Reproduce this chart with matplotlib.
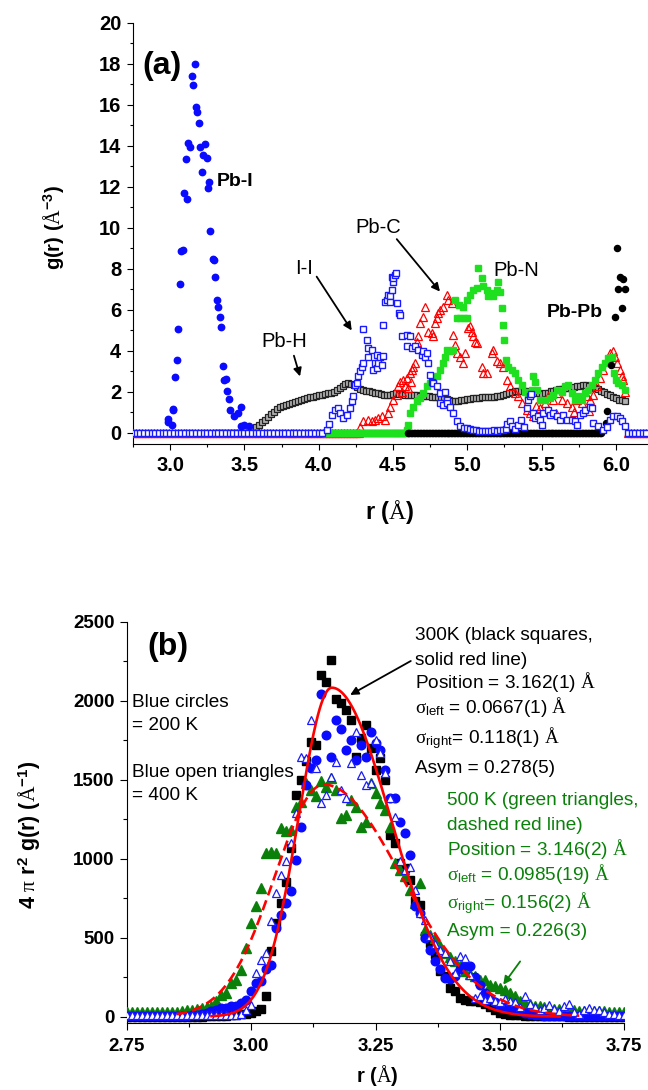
import numpy as np
import matplotlib
matplotlib.use("Agg")
import matplotlib.pyplot as plt
from matplotlib.ticker import MultipleLocator

plt.rcParams['font.family'] = ['Liberation Sans', 'DejaVu Sans']
plt.rcParams['mathtext.fontset'] = 'custom'
plt.rcParams['mathtext.rm'] = 'Liberation Serif'
plt.rcParams['mathtext.it'] = 'Liberation Serif:italic'
plt.rcParams['mathtext.bf'] = 'Liberation Sans:bold'
plt.rcParams['mathtext.sf'] = 'Liberation Sans'
plt.rcParams['axes.linewidth'] = 0.8

# ---------------------------------------------------------------- panel (a)
# Pb-I partial g(r)
pbi_r = [2.984, 2.986, 3.015, 3.021, 3.022, 3.035, 3.044, 3.053, 3.064, 3.073,
         3.084, 3.093, 3.105, 3.115, 3.122, 3.134, 3.145, 3.154, 3.165, 3.174,
         3.183, 3.192, 3.201, 3.214, 3.223, 3.235, 3.246, 3.255, 3.263, 3.270,
         3.286, 3.297, 3.304, 3.315, 3.324, 3.333, 3.344, 3.354, 3.364, 3.374,
         3.381, 3.394, 3.405, 3.432, 3.459, 3.475, 3.480, 3.500, 3.530]
pbi_g = [0.68, 0.50, 0.37, 1.17, 1.10, 2.73, 3.56, 5.06, 7.25, 8.89,
         8.93, 11.69, 13.38, 11.40, 14.16, 13.95, 17.40, 16.96, 18.00, 15.90,
         15.64, 15.12, 13.95, 12.75, 13.56, 14.08, 13.41, 11.97, 12.26, 9.84,
         8.49, 8.44, 7.60, 6.49, 6.13, 5.67, 5.17, 3.27, 2.57, 2.63,
         2.05, 1.64, 1.12, 0.83, 0.96, 1.27, 0.35, 0.38, 0.33]

# I-I partial g(r) (non-zero part) and its zero-valued stretches
ii_r = [4.053, 4.070, 4.087, 4.109, 4.132, 4.143, 4.165, 4.188, 4.210, 4.222,
        4.233, 4.244, 4.255, 4.266, 4.278, 4.289, 4.300, 4.300, 4.323, 4.333,
        4.333, 4.356, 4.367, 4.378, 4.390, 4.390, 4.400, 4.412, 4.423, 4.434,
        4.434, 4.446, 4.457, 4.468, 4.479, 4.479, 4.491, 4.491, 4.502, 4.502,
        4.513, 4.520, 4.524, 4.542, 4.547, 4.558, 4.592, 4.614, 4.592, 4.625,
        4.648, 4.670, 4.693, 4.704, 4.715, 4.726, 4.737, 4.749, 4.760, 4.771,
        4.794, 4.816, 4.816, 4.838, 4.850, 4.861, 4.861, 4.883, 4.905, 4.928,
        4.950, 4.975, 4.995, 5.020, 5.040, 5.060, 5.080, 5.100, 5.120, 5.140,
        5.160, 5.180, 5.200, 5.220, 5.240, 5.260, 5.270, 5.290, 5.300, 5.320,
        5.340, 5.360, 5.380, 5.400, 5.410, 5.422, 5.430, 5.444, 5.455, 5.478,
        5.489, 5.500, 5.511, 5.545, 5.556, 5.578, 5.601, 5.623, 5.646, 5.668,
        5.702, 5.724, 5.740, 5.758, 5.780, 5.791, 5.825, 5.836, 5.848, 5.881,
        5.915, 5.940, 5.960, 5.982, 6.005, 6.027, 6.039, 6.060]
ii_g = [0.15, 0.45, 0.88, 1.12, 1.20, 0.96, 0.72, 0.88, 1.20, 1.53,
        1.80, 2.34, 2.42, 2.75, 2.99, 3.20, 3.40, 5.05, 4.55, 4.13,
        3.72, 4.05, 3.07, 3.40, 3.80, 3.16, 3.40, 3.72, 3.32, 3.75,
        5.27, 6.40, 6.49, 6.73, 6.65, 6.40, 6.98, 7.62, 7.38, 7.55,
        7.71, 7.79, 6.33, 5.84, 5.76, 4.70, 4.78, 4.70, 4.21, 4.13,
        4.21, 4.05, 3.80, 3.97, 3.72, 3.89, 3.40, 2.83, 2.50, 2.42,
        2.26, 1.94, 1.45, 1.37, 2.01, 1.61, 1.45, 1.28, 0.96, 0.55,
        0.31, 0.25, 0.23, 0.18, 0.15, 0.12, 0.10, 0.10, 0.08, 0.08,
        0.10, 0.12, 0.10, 0.12, 0.15, 0.20, 0.45, 0.55, 0.35, 0.20,
        0.40, 0.60, 0.30, 1.20, 1.61, 1.77, 1.90, 0.96, 0.72, 0.80,
        0.63, 0.40, 0.96, 1.12, 0.88, 0.96, 0.80, 0.63, 0.88, 0.63,
        0.63, 0.55, 0.40, 0.88, 0.96, 1.12, 1.28, 1.20, 0.47, 0.31,
        0.15, 0.30, 0.63, 0.80, 0.83, 0.72, 0.55, 0.31]
ii_zero_spans = [(2.75, 4.04), (6.08, 6.22)]

# Pb-C partial g(r)
pbc_r = [4.280, 4.300, 4.334, 4.356, 4.379, 4.400, 4.424, 4.446, 4.468, 4.479,
         4.502, 4.525, 4.536, 4.547, 4.560, 4.569, 4.580, 4.592, 4.600, 4.614,
         4.620, 4.625, 4.636, 4.648, 4.659, 4.670, 4.681, 4.704, 4.715, 4.737,
         4.760, 4.771, 4.782, 4.794, 4.805, 4.816, 4.838, 4.861, 4.872, 4.895,
         4.905, 4.917, 4.928, 4.951, 4.973, 4.984, 5.007, 5.018, 5.029, 5.040,
         5.052, 5.063, 5.096, 5.107, 5.130, 5.164, 5.175, 5.198, 5.220, 5.242,
         5.265, 5.287, 5.321, 5.343, 5.366, 5.399, 5.422, 5.444, 5.460, 5.489,
         5.523, 5.545, 5.578, 5.600, 5.601, 5.635, 5.668, 5.702, 5.720, 5.736,
         5.769, 5.803, 5.820, 5.825, 5.848, 5.870, 5.893, 5.915, 5.938, 5.960,
         5.978, 5.994, 6.009, 6.027, 6.039, 6.050, 6.061]
pbc_g = [0.30, 0.55, 0.63, 0.55, 0.63, 0.72, 0.80, 0.63, 0.96, 1.28,
         1.61, 1.85, 2.26, 2.50, 2.00, 2.59, 2.30, 2.67, 2.20, 2.91,
         2.50, 3.07, 3.23, 3.40, 4.45, 4.70, 5.35, 5.67, 6.16, 4.94,
         4.86, 4.70, 5.35, 5.60, 5.84, 6.00, 6.16, 6.73, 6.49, 6.33,
         4.78, 4.29, 3.89, 3.72, 3.40, 3.89, 5.10, 5.19, 4.94, 4.70,
         4.45, 4.37, 3.23, 2.91, 2.91, 3.89, 4.05, 3.48, 3.40, 3.23,
         2.59, 2.26, 1.94, 1.77, 1.45, 1.12, 0.96, 0.80, 1.30, 1.20,
         1.45, 1.77, 1.61, 0.95, 1.94, 1.61, 1.45, 1.28, 1.00, 1.61,
         1.45, 1.77, 1.05, 1.61, 1.85, 2.26, 2.67, 3.07, 3.48, 3.89,
         3.97, 3.72, 3.40, 3.07, 2.75, 2.59, 2.01]
pbc_zero_spans = [(2.75, 4.27), (6.08, 6.22)]

# Pb-N partial g(r)
pbn_r = [4.592, 4.600, 4.614, 4.636, 4.659, 4.681, 4.704, 4.726, 4.749, 4.771,
         4.794, 4.816, 4.834, 4.850, 4.861, 4.883, 4.905, 4.917, 4.928, 4.946,
         4.950, 4.973, 4.975, 4.995, 4.995, 5.018, 5.040, 5.063, 5.074, 5.096,
         5.107, 5.130, 5.141, 5.164, 5.175, 5.198, 5.209, 5.220, 5.231, 5.242,
         5.247, 5.260, 5.276, 5.299, 5.321, 5.343, 5.366, 5.388, 5.410, 5.433,
         5.444, 5.455, 5.471, 5.489, 5.523, 5.556, 5.578, 5.601, 5.635, 5.657,
         5.679, 5.702, 5.724, 5.747, 5.769, 5.791, 5.814, 5.836, 5.859, 5.881,
         5.904, 5.927, 5.949, 5.971, 5.987, 6.000, 6.016, 6.039, 6.061]
pbn_g = [0.15, 0.40, 0.96, 1.28, 1.53, 1.69, 1.94, 2.26, 2.42, 2.50,
         2.75, 3.07, 3.40, 3.72, 4.05, 3.97, 4.05, 6.49, 5.60, 6.24,
         5.60, 6.16, 5.60, 6.49, 5.60, 6.73, 6.98, 7.06, 8.03, 7.55,
         7.14, 6.98, 6.65, 6.81, 6.65, 6.98, 7.38, 6.89, 6.08, 5.27,
         4.54, 3.56, 3.23, 3.07, 2.91, 2.59, 2.34, 2.01, 1.77, 2.10,
         2.75, 2.50, 2.10, 1.61, 1.61, 1.69, 1.85, 2.10, 2.01, 2.26,
         2.34, 1.94, 1.61, 1.77, 1.61, 1.94, 2.10, 2.34, 2.59, 2.91,
         3.23, 3.40, 3.64, 3.72, 2.91, 2.59, 2.42, 2.34, 2.10]
pbn_zero_spans = [(4.04, 4.59)]

# Pb-Pb partial g(r)
pbpb_r = [5.930, 5.940, 5.970, 5.994, 6.005, 6.016, 6.027, 6.040, 6.045, 6.060]
pbpb_g = [0.47, 1.04, 3.30, 5.67, 9.00, 7.00, 7.62, 6.08, 7.50, 7.00]
pbpb_zero_spans = [(4.60, 5.90)]

# Pb-H partial g(r), tabulated every 0.02 A from 3.30 A
pbh_start, pbh_step = 3.30, 0.02
pbh_g = [0.00, 0.00, 0.00, 0.00, 0.00, 0.00, 0.00, 0.00, 0.00, 0.00,
         0.00, 0.00, 0.00, 0.15, 0.28, 0.40, 0.50, 0.62, 0.75, 0.90,
         1.02, 1.15, 1.25, 1.32, 1.36, 1.40, 1.45, 1.50, 1.55, 1.60,
         1.65, 1.70, 1.72, 1.76, 1.80, 1.84, 1.86, 1.90, 1.92, 1.95,
         2.00, 2.08, 2.18, 2.28, 2.36, 2.42, 2.40, 2.32, 2.22, 2.15,
         2.10, 2.05, 2.02, 1.98, 1.96, 1.94, 1.90, 1.86, 1.82, 1.84,
         1.88, 1.92, 1.90, 1.88, 1.86, 1.85, 1.84, 1.82, 1.82, 1.80,
         1.80, 1.78, 1.77, 1.76, 1.74, 1.72, 1.70, 1.67, 1.64, 1.60,
         1.57, 1.55, 1.56, 1.58, 1.62, 1.64, 1.66, 1.68, 1.70, 1.71,
         1.72, 1.72, 1.73, 1.74, 1.76, 1.78, 1.80, 1.84, 1.88, 1.92,
         1.98, 2.02, 2.05, 2.06, 2.04, 2.02, 2.00, 1.98, 1.95, 1.92,
         1.90, 1.92, 1.96, 2.02, 2.06, 2.10, 2.12, 2.14, 2.16, 2.18,
         2.20, 2.22, 2.26, 2.30, 2.33, 2.32, 2.28, 2.24, 2.18, 2.12,
         2.05, 1.98, 1.90, 1.82, 1.75, 1.68, 1.62, 1.58, 1.56]

xticks_a = [3.0, 3.5, 4.0, 4.5, 5.0, 5.5, 6.0]
xticklabels_a = ['3.0', '3.5', '4.0', '4.5', '5.0', '5.5', '6.0']
yticks_a = [0, 2, 4, 6, 8, 10, 12, 14, 16, 18, 20]
yticklabels_a = [str(v) for v in yticks_a]

# ---------------------------------------------------------------- panel (b)
# 4 pi r^2 g(r), tabulated every 0.01 A from 2.75 A
rb_start, rb_step = 2.75, 0.01
t300_black = [0, 0, 0, 0, 0, 0, 0, 0, 0, 0,
              0, 0, 0, 0, 0, 0, 2, 3, 4, 5,
              6, 8, 10, 14, 18, 23, 34, 49, 129, 413,
              593, 720, 856, 1068, 1405, 1500, 1620, 1742, 1721, 2165,
              2122, 2259, 2011, 1985, 1943, 1880, 1647, 1764, 1848, 1700,
              1560, 1637, 1500, 1152, 1100, 973, 941, 867, 730, 709,
              508, 466, 400, 287, 255, 180, 160, 118, 108, 100,
              97, 95, 80, 60, 40, 25, 15, 13, 10, 8,
              6, 5, 4, 3, 3, 2, 2, 2, 2, 1,
              1, 1, 1, 1, 1, 0, 0, 0, 0, 0,
              0]
t200_blue = [2, 2, 2, 2, 2, 2, 2, 2, 2, 2,
             2, 3, 5, 8, 12, 18, 25, 35, 44, 55,
             55, 65, 65, 87, 108, 160, 213, 224, 300, 329,
             560, 646, 719, 793, 994, 1200, 1468, 1574, 1627, 2044,
             1785, 1647, 1880, 1824, 1690, 1753, 1627, 1721, 1647, 1806,
             1732, 1690, 1563, 1384, 1384, 1236, 1162, 1025, 698, 656,
             500, 420, 350, 300, 245, 240, 260, 300, 329, 318,
             250, 200, 150, 110, 90, 70, 55, 48, 44, 35,
             25, 18, 12, 8, 6, 5, 4, 3, 3, 2,
             2, 2, 2, 2, 2, 2, 2, 2, 2, 2,
             2]
t400_open = [13, 13, 13, 13, 13, 13, 13, 13, 13, 13,
             13, 13, 13, 13, 13, 13, 13, 13, 13, 13,
             13, 13, 13, 20, 45, 76, 276, 361, 403, 603,
             783, 900, 983, 1099, 1289, 1647, 1637, 1880, 1574, 1352,
             1405, 1521, 1616, 1437, 1384, 1605, 1806, 1532, 1468, 1479,
             1753, 1669, 1542, 1384, 1268, 983, 930, 951, 800, 656,
             614, 508, 460, 424, 403, 350, 276, 382, 371, 266,
             118, 129, 108, 118, 100, 95, 110, 100, 90, 60,
             129, 80, 60, 40, 55, 75, 50, 35, 65, 80,
             30, 20, 40, 55, 45, 40, 30, 20, 15, 13,
             13]
t500_green = [30, 30, 30, 30, 30, 30, 30, 30, 30, 30,
              30, 35, 40, 45, 50, 55, 60, 65, 100, 139,
              150, 213, 234, 297, 435, 593, 698, 814, 1036, 1046,
              1036, 1194, 1173, 1184, 1331, 1363, 1479, 1437, 1395, 1490,
              1458, 1511, 1437, 1258, 1278, 1373, 1331, 1204, 1236, 1479,
              1416, 1352, 1310, 1204, 973, 930, 888, 804, 719, 846,
              551, 519, 498, 445, 403, 380, 350, 318, 290, 270,
              255, 234, 234, 203, 192, 182, 171, 150, 129, 100,
              87, 80, 70, 65, 60, 55, 50, 48, 44, 42,
              40, 38, 36, 35, 34, 34, 33, 32, 32, 31,
              30]

# asymmetric Gaussian fits (position, sigma_left, sigma_right in A; peak height)
fit_300 = dict(position=3.162, sigma_left=0.0667, sigma_right=0.118, height=2084, r_range=(2.92, 3.62))
fit_500 = dict(position=3.146, sigma_left=0.0985, sigma_right=0.156, height=1470, r_range=(2.85, 3.66))

xticks_b = [2.75, 3.00, 3.25, 3.50, 3.75]
xticklabels_b = ['2.75', '3.00', '3.25', '3.50', '3.75']
yticks_b = [0, 500, 1000, 1500, 2000, 2500]
yticklabels_b = [str(v) for v in yticks_b]


def span_points(spans, step):
    return np.concatenate([np.arange(a, b + 1e-9, step) for a, b in spans])


def split_gauss(r, position, sigma_left, sigma_right, height):
    s = np.where(r < position, sigma_left, sigma_right)
    return height * np.exp(-(r - position) ** 2 / (2 * s ** 2))


W, H = 648, 1090
fig = plt.figure(figsize=(W / 100, H / 100), dpi=100)

# ------------------------------------------------------------ draw panel (a)
ax = fig.add_axes([133 / W, 1 - 444 / H, (W - 133) / W, (444 - 23) / H])
ax.set_xlim(2.75, 6.216)
ax.set_ylim(-0.55, 20)

pbh_r = np.round(pbh_start + pbh_step * np.arange(len(pbh_g)), 3)
ax.plot(pbh_r, pbh_g, ls='none', marker='s', ms=4.2, mfc='#b0b0b0', mec='#222222', mew=0.9, zorder=2)

pbc_zero = span_points(pbc_zero_spans, 0.02)
ax.plot(pbc_zero, np.zeros_like(pbc_zero), ls='none', marker='^', ms=5.8, mfc='none', mec='red', mew=0.9, zorder=3)
ax.plot(pbc_r, pbc_g, ls='none', marker='^', ms=5.8, mfc='none', mec='red', mew=0.9, zorder=3)

pbn_zero = span_points(pbn_zero_spans, 0.01)
ax.plot(pbn_zero, np.zeros_like(pbn_zero), ls='none', marker='s', ms=4.3, mfc='#1ee01e', mec='#1ee01e', zorder=4)
ax.plot(pbn_r, pbn_g, ls='none', marker='s', ms=4.3, mfc='#1ee01e', mec='#1ee01e', zorder=4)

pbpb_zero = span_points(pbpb_zero_spans, 0.01)
ax.plot(pbpb_zero, np.zeros_like(pbpb_zero), ls='none', marker='o', ms=4.4, mfc='black', mec='black', zorder=5)
ax.plot(pbpb_r, pbpb_g, ls='none', marker='o', ms=4.4, mfc='black', mec='black', zorder=5)

ii_zero = span_points(ii_zero_spans, 0.025)
ax.plot(ii_zero, np.zeros_like(ii_zero), ls='none', marker='s', ms=4.2, mfc='white', mec='#1a1aff', mew=1.0, zorder=6)
ax.plot(ii_r, ii_g, ls='none', marker='s', ms=4.2, mfc='white', mec='#1a1aff', mew=1.0, zorder=6)

ax.plot(pbi_r, pbi_g, ls='none', marker='o', ms=4.6, mfc='#0a0aff', mec='#0a0aff', zorder=7)

ax.text(2.81, 17.9, '(a)', fontsize=23, fontweight='bold', ha='left', va='center')
ax.text(3.313, 12.24, 'Pb-I', fontsize=14, fontweight='bold', ha='left', va='center')
ax.text(5.534, 5.85, 'Pb-Pb', fontsize=14, fontweight='bold', ha='left', va='center')
ax.text(5.175, 7.93, 'Pb-N', fontsize=14.5, ha='left', va='center')
ax.text(4.244, 10.02, 'Pb-C', fontsize=14.5, ha='left', va='center')
ax.text(3.84, 8.0, 'I-I', fontsize=14.5, ha='left', va='center')
ax.text(3.616, 4.45, 'Pb-H', fontsize=14.5, ha='left', va='center')

arrow_kw = dict(arrowstyle='-|>', color='black', lw=1.3, mutation_scale=12, shrinkA=0, shrinkB=0)
ax.annotate('', xy=(4.816, 6.89), xytext=(4.525, 9.45), arrowprops=arrow_kw, zorder=8)
ax.annotate('', xy=(4.222, 4.99), xytext=(3.986, 7.62), arrowprops=arrow_kw, zorder=8)
ax.annotate('', xy=(3.874, 2.75), xytext=(3.833, 3.76), arrowprops=arrow_kw, zorder=8)

ax.spines['top'].set_visible(False)
ax.spines['right'].set_visible(False)
ax.set_xticks(xticks_a, labels=xticklabels_a, fontsize=14.5, fontweight='bold')
ax.set_yticks(yticks_a, labels=yticklabels_a, fontsize=14.5, fontweight='bold')
ax.xaxis.set_minor_locator(MultipleLocator(0.25))
ax.yaxis.set_minor_locator(MultipleLocator(1))
ax.tick_params(which='major', direction='out', length=4.5, width=0.8, pad=4)
ax.tick_params(which='minor', direction='out', length=2.5, width=0.8)
ax.set_xlabel(r'r ($\mathrm{\AA}$)', fontsize=17, fontweight='bold', va='center')
ax.xaxis.set_label_coords(390 / W, 1 - 512 / H, transform=fig.transFigure)
ax.set_ylabel(r'g(r) ($\mathrm{\AA}^{\mathbf{-3}}$)', fontsize=14.5, fontweight='bold', va='center')
ax.yaxis.set_label_coords(54 / W, 1 - 228 / H, transform=fig.transFigure)

# ------------------------------------------------------------ draw panel (b)
bx = fig.add_axes([127 / W, 1 - 1023 / H, (624 - 127) / W, (1023 - 622) / H])
bx.set_xlim(2.75, 3.75)
bx.set_ylim(-40, 2500)


def rb(series):
    return np.round(rb_start + rb_step * np.arange(len(series)), 3)


bx.plot(rb(t300_black), t300_black, ls='none', marker='s', ms=5.2, mfc='black', mec='black', zorder=2)
bx.plot(rb(t500_green), t500_green, ls='none', marker='^', ms=6.8, mfc='#0a800a', mec='#0a800a', zorder=3)
bx.plot(rb(t200_blue), t200_blue, ls='none', marker='o', ms=6.2, mfc='#0a0aff', mec='#0a0aff', zorder=4)
bx.plot(rb(t400_open), t400_open, ls='none', marker='^', ms=6.4, mfc='white', mec='#1a1aff', mew=0.9, zorder=5)

for fit, style in ((fit_300, '-'), (fit_500, (0, (4, 2)))):
    rr = np.linspace(fit['r_range'][0], fit['r_range'][1], 400)
    yy = split_gauss(rr, fit['position'], fit['sigma_left'], fit['sigma_right'], fit['height'])
    bx.plot(rr, yy, color='red', lw=1.9, ls=style, zorder=6)

bx.text(2.792, 2342, '(b)', fontsize=23, fontweight='bold', ha='left', va='center')

txt_kw = dict(fontsize=13.7, ha='left', va='baseline')
off = 32  # baseline offset below the line centre, in data units
bx.text(2.761, 1996 - off, 'Blue circles', **txt_kw)
bx.text(2.761, 1848 - off, '= 200 K', **txt_kw)
bx.text(2.761, 1553 - off, 'Blue open triangles', **txt_kw)
bx.text(2.761, 1405 - off, '= 400 K', **txt_kw)

lines_300 = ['300K (black squares,', 'solid red line)',
             r'Position = 3.162(1) $\mathrm{\AA}$',
             r'$\mathrm{\sigma}_{\mathsf{left}}$ = 0.0667(1) $\mathrm{\AA}$',
             r'$\mathrm{\sigma}_{\mathsf{right}}$= 0.118(1) $\mathrm{\AA}$',
             'Asym = 0.278(5)']
ys_300 = [2418, 2259, 2112, 1954, 1764, 1574]
for s, y in zip(lines_300, ys_300):
    bx.text(3.3295, y - off, s, color='black', **txt_kw)

lines_500 = ['500 K (green triangles,', 'dashed red line)',
             r'Position = 3.146(2) $\mathrm{\AA}$',
             r'$\mathrm{\sigma}_{\mathsf{left}}$ = 0.0985(19) $\mathrm{\AA}$',
             r'$\mathrm{\sigma}_{\mathsf{right}}$= 0.156(2) $\mathrm{\AA}$',
             'Asym = 0.226(3)']
ys_500 = [1373, 1215, 1057, 899, 720, 540]
for s, y in zip(lines_500, ys_500):
    bx.text(3.393, y - off, s, color='#0a800a', **txt_kw)

bx.annotate('', xy=(3.199, 2038), xytext=(3.321, 2253), arrowprops=arrow_kw, zorder=8)
green_arrow = dict(arrow_kw, color='#0a800a')
bx.annotate('', xy=(3.507, 203), xytext=(3.541, 350), arrowprops=green_arrow, zorder=8)

bx.spines['top'].set_visible(False)
bx.spines['right'].set_visible(False)
bx.set_xticks(xticks_b, labels=xticklabels_b, fontsize=13.5, fontweight='bold')
bx.set_yticks(yticks_b, labels=yticklabels_b, fontsize=13.5, fontweight='bold')
bx.xaxis.set_minor_locator(MultipleLocator(0.125))
bx.yaxis.set_minor_locator(MultipleLocator(250))
bx.tick_params(which='major', direction='out', length=5, width=0.8, pad=4)
bx.tick_params(axis='x', which='major', pad=6)
bx.tick_params(which='minor', direction='out', length=3, width=0.8)
bx.set_xlabel(r'r ($\mathrm{\AA}$)', fontsize=14.5, fontweight='bold', va='center')
bx.xaxis.set_label_coords(377 / W, 1 - 1075 / H, transform=fig.transFigure)
bx.set_ylabel(r'4 $\mathrm{\pi}$ r$^{\mathbf{2}}$ g(r) ($\mathrm{\AA}^{\mathbf{-1}}$)',
              fontsize=15.5, fontweight='bold', va='center')
bx.yaxis.set_label_coords(30 / W, 1 - 835 / H, transform=fig.transFigure)

fig.savefig('out.png', dpi=100)
